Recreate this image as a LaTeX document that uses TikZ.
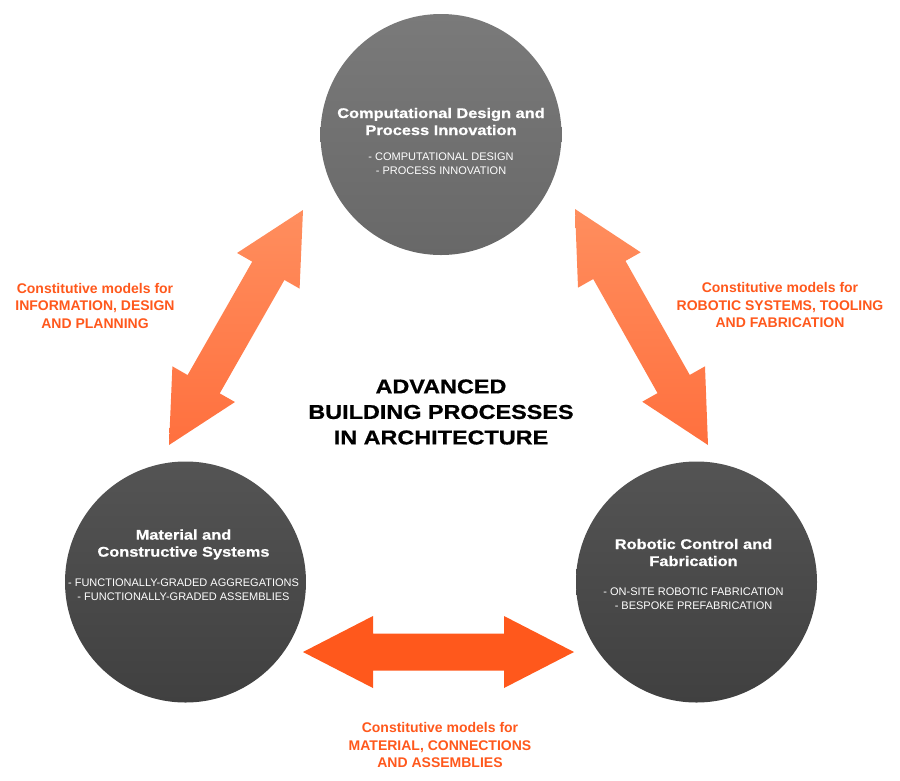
\documentclass[tikz,border=0pt]{standalone}
\usepackage{fontspec}
\setmainfont{Liberation Sans}
\newfontfamily\widesans[FakeStretch=1.17,FakeBold=0.8]{Liberation Sans}
\usetikzlibrary{calc,positioning}

\definecolor{hubtop}{RGB}{122,122,122}
\definecolor{hubbot}{RGB}{104,104,104}
\definecolor{darktop}{RGB}{84,84,84}
\definecolor{darkbot}{RGB}{64,64,64}
\definecolor{linkorange}{RGB}{255,88,28}
\definecolor{diagtop}{RGB}{255,142,94}
\definecolor{diagbot}{RGB}{255,112,62}

\tikzset{
  hub/.style={circle,minimum size=241pt,inner sep=0pt},
  hubtitle/.style={text=white,font=\fontsize{14}{17}\selectfont\widesans\bfseries,align=center},
  hubitems/.style={text=white,font=\fontsize{11}{14}\selectfont,align=center},
  linklabel/.style={text=linkorange,font=\fontsize{14}{17.5}\selectfont\bfseries,align=center},
  maintitle/.style={text=black,font=\fontsize{20}{25.5}\selectfont\widesans\bfseries,align=center},
}

% fat double arrow between two tips: #1, #2 tips, #3 fill options
\newcommand{\headlen}{70pt}
\newcommand{\headw}{36pt}
\newcommand{\shaftw}{18.5pt}
\newcommand{\fatarrow}[3]{%
  \path[#3] (#1)
    -- ($(#1)!\headlen!(#2)!\headw!90:(#2)$)
    -- ($(#1)!\headlen!(#2)!\shaftw!90:(#2)$)
    -- ($(#2)!\headlen!(#1)!\shaftw!-90:(#1)$)
    -- ($(#2)!\headlen!(#1)!\headw!-90:(#1)$)
    -- (#2)
    -- ($(#2)!\headlen!(#1)!\headw!90:(#1)$)
    -- ($(#2)!\headlen!(#1)!\shaftw!90:(#1)$)
    -- ($(#1)!\headlen!(#2)!\shaftw!-90:(#2)$)
    -- ($(#1)!\headlen!(#2)!\headw!-90:(#2)$)
    -- cycle;}

\begin{document}
\begin{tikzpicture}[x=1pt,y=-1pt]
\useasboundingbox (0,0) rectangle (900,780);

% the three circles
\node[hub,top color=hubtop,bottom color=hubbot] (design) at (441,134.5) {};
\node[hub,top color=darktop,bottom color=darkbot] (material) at (185.5,582) {};
\node[hub,top color=darktop,bottom color=darkbot] (robotic) at (696.5,582) {};

\node[hubtitle] (design-t) at ($(design)+(0,-13)$) {Computational Design and\\Process Innovation};
\node[hubitems] (design-i) at ($(design)+(0,29.5)$) {- COMPUTATIONAL DESIGN\\- PROCESS INNOVATION};

\node[hubtitle] (material-t) at ($(material)+(-2,-37.5)$) {Material and\\Constructive Systems};
\node[hubitems] (material-i) at ($(material)+(-2,8)$) {- FUNCTIONALLY-GRADED AGGREGATIONS\\- FUNCTIONALLY-GRADED ASSEMBLIES};

\node[hubtitle] (robotic-t) at ($(robotic)+(-3,-29.5)$) {Robotic Control and\\Fabrication};
\node[hubitems] (robotic-i) at ($(robotic)+(-3,17)$) {- ON-SITE ROBOTIC FABRICATION\\- BESPOKE PREFABRICATION};

% arrow tips
\coordinate (dm1) at (303,210);
\coordinate (dm2) at (169,445);
\coordinate (dr1) at (575,209);
\coordinate (dr2) at (708,445);
\coordinate (mr1) at (303,652);
\coordinate (mr2) at (574,652);

\fatarrow{dm1}{dm2}{top color=diagtop,bottom color=diagbot}
\fatarrow{dr1}{dr2}{top color=diagtop,bottom color=diagbot}
\fatarrow{mr1}{mr2}{fill=linkorange}

\node[maintitle] (title) at (441,412) {ADVANCED\\BUILDING PROCESSES\\IN ARCHITECTURE};

\node[linklabel] (dm-lbl) at (95,305.5) {Constitutive models for\\INFORMATION, DESIGN\\AND PLANNING};
\node[linklabel] (dr-lbl) at (780,305) {Constitutive models for\\ROBOTIC SYSTEMS, TOOLING\\AND FABRICATION};
\node[linklabel] (mr-lbl) at (440,745) {Constitutive models for\\MATERIAL, CONNECTIONS\\AND ASSEMBLIES};
\end{tikzpicture}
\end{document}
